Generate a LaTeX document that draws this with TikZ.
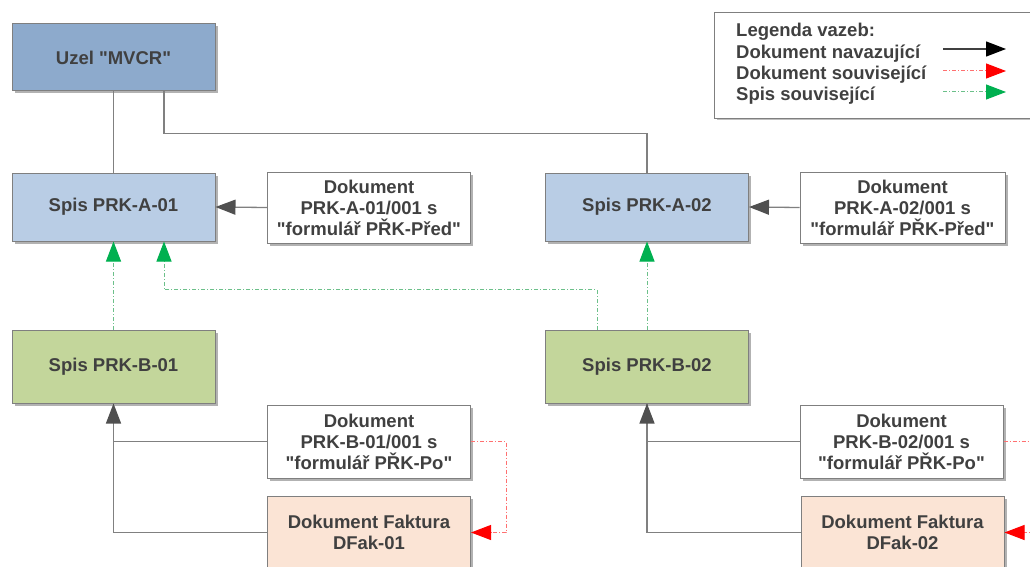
\documentclass[tikz,border=0pt]{standalone}
\usepackage{fontspec}
\setmainfont{Liberation Sans}[Ligatures=TeXOff]
\usetikzlibrary{arrows.meta,shadows}
\definecolor{txt}{HTML}{404040}
\definecolor{bord}{HTML}{7F7F7F}
\definecolor{mvcrc}{HTML}{8DAACC}
\definecolor{spisa}{HTML}{B9CDE5}
\definecolor{spisb}{HTML}{C3D69B}
\definecolor{fakt}{HTML}{FBE4D5}
\definecolor{conn}{HTML}{808080}
\definecolor{navtip}{HTML}{505050}
\definecolor{grn}{HTML}{00B050}
\definecolor{grnl}{HTML}{6CC08A}
\definecolor{redl}{HTML}{FF7070}
\begin{document}
\begin{tikzpicture}[x=1pt,y=-1pt,
  box/.style={draw=bord,line width=1pt,minimum width=203pt,minimum height=68pt,
    inner sep=2pt,align=center,text=txt,
    font=\bfseries\fontsize{18.5}{21}\selectfont,
    drop shadow={shadow xshift=2.5pt,shadow yshift=-2.5pt,opacity=0.3,fill=black}},
  doc/.style={box,fill=white,minimum height=71pt},
  legtext/.style={anchor=base west,inner sep=0pt,text=txt,font=\bfseries\fontsize{18.5}{21}\selectfont},
  link/.style={draw=conn,line width=1.3pt},
  tip/.style={-{Triangle[length=20pt,width=15pt,fill=#1,color=#1]}},
  navlink/.style={link,tip=navtip},
  spisrel/.style={draw=grnl,line width=1pt,dash pattern=on 4pt off 2pt on 1pt off 2pt,tip=grn},
  docrel/.style={draw=redl,line width=1pt,dash pattern=on 4pt off 2pt on 1pt off 2pt,tip=red},
  plainred/.style={draw=redl,line width=1pt,dash pattern=on 4pt off 2pt on 1pt off 2pt}
]
\useasboundingbox (0,0) rectangle (1030,567);
\clip (0,0) rectangle (1030,567);
\fill[white] (0,0) rectangle (1030,567);

% legend
\node[draw=bord,line width=1pt,minimum width=326pt,minimum height=106pt,anchor=north west,inner sep=0pt,
  drop shadow={shadow xshift=2pt,shadow yshift=-2pt,opacity=0.25,fill=black},fill=white] (leg) at (714,12) {};
\node[legtext] (l0) at (736,37) {Legenda vazeb:};
\node[legtext] (l1) at (736,58.5) {Dokument navazující};
\node[legtext] (l2) at (736,79.5) {Dokument související};
\node[legtext] (l3) at (736,100.5) {Spis související};
\coordinate (l1a) at (943,49);  \coordinate (l1b) at (1006,49);
\coordinate (l2a) at (943,71);  \coordinate (l2b) at (1006,71);
\coordinate (l3a) at (943,92);  \coordinate (l3b) at (1006,92);
\draw[line width=1.3pt,draw=txt,tip=black] (l1a) -- (l1b);
\draw[docrel] (l2a) -- (l2b);
\draw[spisrel] (l3a) -- (l3b);

% nodes
\node[box,fill=mvcrc,minimum height=67pt] (mvcr) at (113.5,57.5) {Uzel "MVCR"};
\node[box,fill=spisa] (a1) at (113.5,207) {Spis PRK-A-01};
\node[doc] (da1) at (369,207.5) {Dokument\\PRK-A-01/001 s\\"formulář PŘK-Před"};
\node[box,fill=spisa] (a2) at (647,207) {Spis PRK-A-02};
\node[doc,minimum width=205pt] (da2) at (902.5,207.5) {Dokument\\PRK-A-02/001 s\\"formulář PŘK-Před"};
\node[box,fill=spisb,minimum height=73pt] (b1) at (113.5,366.5) {Spis PRK-B-01};
\node[box,fill=spisb,minimum height=73pt] (b2) at (647,366.5) {Spis PRK-B-02};
\node[doc,minimum height=73pt] (db1) at (369,441.5) {Dokument\\PRK-B-01/001 s\\"formulář PŘK-Po"};
\node[doc,minimum height=73pt] (db2) at (901.5,441.5) {Dokument\\PRK-B-02/001 s\\"formulář PŘK-Po"};
\node[box,fill=fakt,minimum height=73pt] (f1) at (369,532.5) {Dokument Faktura\\DFak-01};
\node[box,fill=fakt,minimum height=73pt] (f2) at (902.5,532.5) {Dokument Faktura\\DFak-02};

% connectors
\draw[link] (mvcr.south) -- (a1.north);
\draw[link] ([xshift=50.5pt]mvcr.south) -- ++(0,42) -| (a2.north);
\draw[navlink] (da1.west) -- (a1.east);
\draw[navlink] (da2.west) -- (a2.east);

\coordinate (a1s2) at ([xshift=50.5pt]a1.south);
\draw[spisrel] (b1.north) -- (a1.south);
\draw[spisrel] ([xshift=-50pt]b2.north) -- ++(0,-40) -| (a1s2);
\draw[spisrel] (b2.north) -- (a2.south);

\draw[link] (f1.west) -| (b1.south);
\draw[navlink] (db1.west) -| (b1.south);
\draw[link] (f2.west) -| (b2.south);
\draw[navlink] (db2.west) -| (b2.south);

\draw[docrel] (db1.east) -- ++(35,0) |- (f1.east);
\coordinate (r2a) at (1045,441.5);
\coordinate (r2b) at (1045,532.5);
\draw[plainred] (db2.east) -- (r2a);
\draw[docrel] (r2b) -- (f2.east);
\end{tikzpicture}
\end{document}
